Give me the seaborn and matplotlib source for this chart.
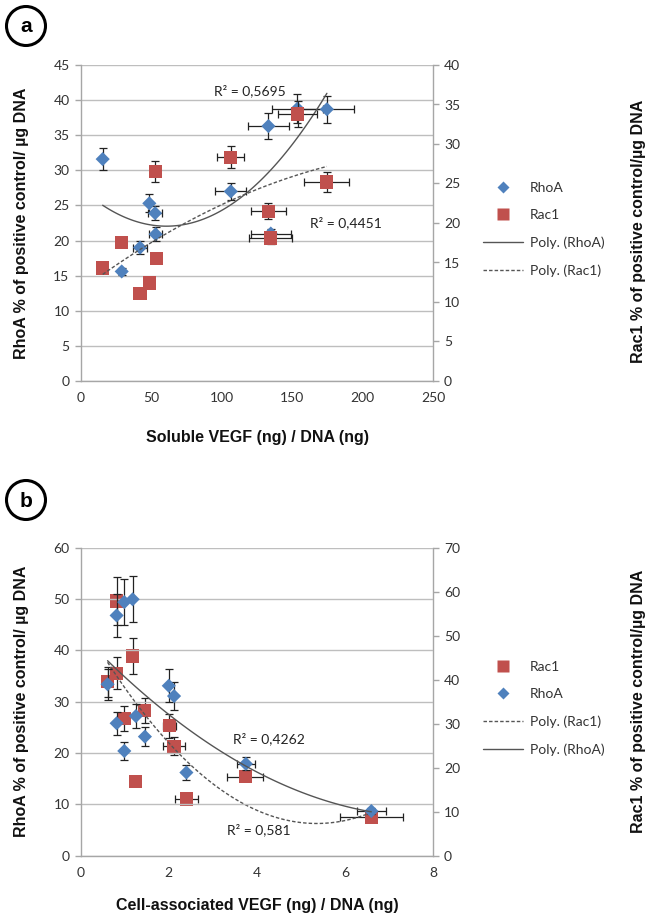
import numpy as np
import pandas as pd
import matplotlib
matplotlib.use("Agg")
import matplotlib.pyplot as plt
import seaborn as sns
from matplotlib.lines import Line2D
from matplotlib.patches import Circle

# ---------------- Panel a data ----------------
a_rhoa_x = [15.6, 48.7, 52.8, 106.5, 133.2, 153.8, 174.7, 53.2, 42.1, 29.1, 134.9]
a_rhoa_y = [31.6, 25.3, 23.9, 27.0, 36.3, 38.8, 38.7, 20.9, 19.0, 15.6, 21.0]
a_rhoa_xerr = [0, 0, 5, 11, 14.6, 17.8, 19, 4.7, 5, 0, 14]
a_rhoa_yerr = [1.6, 1.3, 1.0, 1.2, 1.8, 2.1, 1.9, 1.0, 0.9, 0.5, 0.7]

a_rac1_x = [52.8, 106.5, 154.1, 174.7, 133.2, 134.9, 29.1, 53.5, 15.6, 48.7, 42.1]
a_rac1_y = [26.5, 28.3, 33.8, 25.2, 21.5, 18.1, 17.5, 15.5, 14.3, 12.4, 11.1]
a_rac1_xerr = [0, 9.7, 13.9, 16, 12.4, 15.2, 0, 0, 0, 0, 0]
a_rac1_yerr = [1.3, 1.4, 1.6, 1.3, 1.0, 0.7, 0, 0, 0, 0, 0]

# ---------------- Panel b data ----------------
b_rhoa_x = [0.61, 0.816, 0.816, 0.99, 0.99, 1.18, 1.253, 1.458, 2.0, 2.12, 2.40, 3.75, 6.60]
b_rhoa_y = [33.4, 46.8, 25.8, 49.4, 20.4, 49.95, 27.2, 23.2, 33.1, 31.1, 16.2, 17.9, 8.7]
b_rhoa_xerr = [0, 0, 0, 0, 0, 0, 0, 0, 0, 0, 0, 0.2, 0.33]
b_rhoa_yerr = [3.0, 4.2, 2.2, 4.5, 1.7, 4.5, 2.4, 1.9, 3.2, 2.8, 1.5, 1.3, 0.5]

b_rac1_x = [0.816, 0.61, 0.816, 1.18, 0.99, 1.458, 2.01, 2.12, 1.253, 2.40, 3.74, 6.60]
b_rac1_y = [57.9, 39.5, 41.5, 45.4, 31.2, 33.0, 29.5, 24.9, 16.8, 12.9, 18.0, 8.7]
b_rac1_xerr = [0, 0, 0, 0, 0, 0, 0.15, 0.24, 0, 0.26, 0.41, 0.72]
b_rac1_yerr = [5.4, 3.5, 3.7, 4.1, 2.8, 2.8, 2.7, 2.0, 1.0, 0, 0, 0]

r2_a = ["R² = 0,5695", "R² = 0,4451"]
r2_b = ["R² = 0,4262", "R² = 0,581"]

BLUE = "#4F81BD"
RED = "#C0504D"
GRID = "#BEBEBE"
TICKFONT = ["Lato", "DejaVu Sans"]
LABFONT = ["Liberation Sans", "DejaVu Sans"]

sns.set_theme(style="white")
plt.rcParams["font.family"] = TICKFONT

W, H = 648, 921
fig = plt.figure(figsize=(W / 100, H / 100), dpi=100)


def px_axes(left, top, right, bottom):
    return fig.add_axes([left / W, 1 - bottom / H, (right - left) / W, (bottom - top) / H])


def style_axes(ax, tw):
    for s in ["top"]:
        ax.spines[s].set_visible(False)
        tw.spines[s].set_visible(False)
    for a in (ax, tw):
        for s in ["left", "right", "bottom"]:
            a.spines[s].set_color("#A6A6A6")
            a.spines[s].set_linewidth(1.0)
        a.tick_params(axis="both", which="major", direction="out", length=4, width=1,
                      color="#A6A6A6", labelsize=10, labelcolor="#333333", pad=4)
    ax.spines["right"].set_visible(False)
    tw.spines["left"].set_visible(False)
    tw.spines["bottom"].set_visible(False)
    ax.yaxis.grid(True, color=GRID, lw=1)
    ax.xaxis.grid(False)
    tw.grid(False)
    ax.set_xlabel("")
    ax.set_ylabel("")
    tw.set_xlabel("")
    tw.set_ylabel("")


def draw_errors(ax, x, y, xerr, yerr):
    x = np.asarray(x); y = np.asarray(y)
    xerr = np.asarray(xerr); yerr = np.asarray(yerr)
    m = yerr > 0
    if m.any():
        ax.errorbar(x[m], y[m], yerr=yerr[m], fmt="none", ecolor="#222222",
                    elinewidth=0.9, capsize=3, capthick=0.9, zorder=2)
    m = xerr > 0
    if m.any():
        ax.errorbar(x[m], y[m], xerr=xerr[m], fmt="none", ecolor="#222222",
                    elinewidth=0.9, capsize=3, capthick=0.9, zorder=2)


def panel(ax, tw, rx, ry, rxe, rye, cx, cy, cxe, cye, rhoa_top=False):
    df_r = pd.DataFrame({"x": rx, "y": ry})
    df_c = pd.DataFrame({"x": cx, "y": cy})
    draw_errors(ax, rx, ry, rxe, rye)
    sns.scatterplot(data=df_r, x="x", y="y", ax=ax, marker="D", s=52, color=BLUE,
                    edgecolor="none", linewidth=0, zorder=3, legend=False)
    sns.regplot(data=df_r, x="x", y="y", ax=ax, order=2, ci=None, scatter=False,
                line_kws=dict(color="#555555", lw=1.0, ls="-", zorder=4))
    draw_errors(tw, cx, cy, cxe, cye)
    sns.scatterplot(data=df_c, x="x", y="y", ax=tw, marker="s", s=90, color=RED,
                    edgecolor="none", linewidth=0, zorder=3, legend=False)
    sns.regplot(data=df_c, x="x", y="y", ax=tw, order=2, ci=None, scatter=False,
                line_kws=dict(color="#555555", lw=1.0, ls=(0, (2.5, 1.5)), zorder=4))
    if rhoa_top:
        ax.set_zorder(tw.get_zorder() + 1)
        ax.patch.set_visible(False)


# ---------------- Panel a ----------------
ax1 = px_axes(80.7, 65, 433, 381)
tw1 = ax1.twinx()
panel(ax1, tw1, a_rhoa_x, a_rhoa_y, a_rhoa_xerr, a_rhoa_yerr,
      a_rac1_x, a_rac1_y, a_rac1_xerr, a_rac1_yerr)
ax1.set_xlim(0, 250); ax1.set_xticks(range(0, 251, 50))
ax1.set_ylim(0, 45); ax1.set_yticks(range(0, 46, 5))
tw1.set_ylim(0, 40); tw1.set_yticks(range(0, 41, 5))
style_axes(ax1, tw1)
ax1.text(120, 41.4, r2_a[0], ha="center", va="center", fontsize=10, color="#222222")
ax1.text(188, 22.5, r2_a[1], ha="center", va="center", fontsize=10, color="#222222")

# ---------------- Panel b ----------------
ax2 = px_axes(80.7, 547.7, 433, 855.7)
tw2 = ax2.twinx()
panel(ax2, tw2, b_rhoa_x, b_rhoa_y, b_rhoa_xerr, b_rhoa_yerr,
      b_rac1_x, b_rac1_y, b_rac1_xerr, b_rac1_yerr, rhoa_top=True)
ax2.set_xlim(0, 8); ax2.set_xticks(range(0, 9, 2))
ax2.set_ylim(0, 60); ax2.set_yticks(range(0, 61, 10))
tw2.set_ylim(0, 70); tw2.set_yticks(range(0, 71, 10))
style_axes(ax2, tw2)
ax2.text(4.27, 22.7, r2_b[0], ha="center", va="center", fontsize=10, color="#222222")
ax2.text(4.04, 5.0, r2_b[1], ha="center", va="center", fontsize=10, color="#222222")

# ---------------- Legends ----------------
h_rhoa = Line2D([], [], ls="none", marker="D", ms=6, color=BLUE, mec="none")
h_rac1 = Line2D([], [], ls="none", marker="s", ms=8, color=RED, mec="none")
h_prho = Line2D([], [], ls="-", lw=1.0, color="#555555")
h_prac = Line2D([], [], ls=(0, (2.5, 1.5)), lw=1.0, color="#555555")
leg_kw = dict(frameon=False, fontsize=10, handlelength=2.9, handletextpad=0.45,
              labelspacing=1.1, borderpad=0, borderaxespad=0, loc="upper left",
              labelcolor="#333333")
fig.legend([h_rhoa, h_rac1, h_prho, h_prac],
           ["RhoA", "Rac1", "Poly. (RhoA)", "Poly. (Rac1)"],
           bbox_to_anchor=(483 / W, 1 - 182 / H), **leg_kw)
fig.legend([h_rac1, h_rhoa, h_prac, h_prho],
           ["Rac1", "RhoA", "Poly. (Rac1)", "Poly. (RhoA)"],
           bbox_to_anchor=(483 / W, 1 - 661 / H), **leg_kw)

# ---------------- Axis titles ----------------
lab = dict(fontsize=11.5, fontweight="bold", family=LABFONT, color="#111111")
fig.text(22 / W, 1 - 223 / H, "RhoA % of positive control/ µg DNA", rotation=90,
         ha="center", va="center", **lab)
fig.text(638 / W, 1 - 231 / H, "Rac1 % of positive control/µg DNA", rotation=90,
         ha="center", va="center", **lab)
fig.text(257 / W, 1 - 437 / H, "Soluble VEGF (ng) / DNA (ng)", ha="center", va="center", **lab)
fig.text(22 / W, 1 - 701 / H, "RhoA % of positive control/ µg DNA", rotation=90,
         ha="center", va="center", **lab)
fig.text(638 / W, 1 - 701 / H, "Rac1 % of positive control/µg DNA", rotation=90,
         ha="center", va="center", **lab)
fig.text(257 / W, 1 - 905 / H, "Cell-associated VEGF (ng) / DNA (ng)", ha="center",
         va="center", **lab)

# ---------------- Panel letters ----------------
for cy, letter in [(26, "a"), (500, "b")]:
    fig.add_artist(Circle((26 / 100, (H - cy) / 100), 0.195, transform=fig.dpi_scale_trans,
                          fill=False, lw=2.2, ec="black"))
    fig.text(26 / W, 1 - (cy + 1) / H, letter, ha="center", va="center", fontsize=15,
             fontweight="bold", family=LABFONT, color="black")

fig.savefig("out.png", dpi=100)
